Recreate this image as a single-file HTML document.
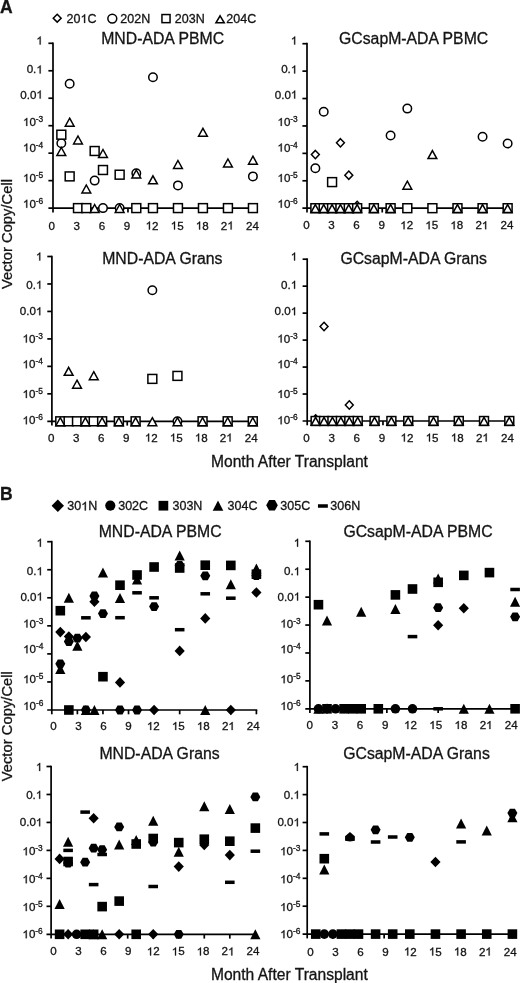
<!DOCTYPE html>
<html><head><meta charset="utf-8"><title>Vector copy figure</title>
<style>html,body{margin:0;padding:0;background:#fff;}body{width:520px;height:983px;overflow:hidden;}svg{display:block;will-change:transform;}text{font-family:"Liberation Sans", sans-serif;fill:#141414;stroke:#141414;stroke-width:0.3px;}.g1{fill:#141414;stroke:#141414;stroke-width:0.3px;}</style>
</head><body>
<svg width="520" height="983" viewBox="0 0 520 983">
<rect width="520" height="983" fill="#fff"/>
<text x="0" y="12.5" font-size="17.5" text-anchor="start" font-weight="bold">A</text>
<text x="0" y="499.6" font-size="17.5" text-anchor="start" font-weight="bold">B</text>
<g fill="#fff" stroke="#000" stroke-width="1.5">
<path d="M57.2 14.25L61.15 18.2L57.2 22.15L53.25 18.2Z" fill="#fff" stroke="#000" stroke-width="1.5" stroke-linejoin="miter"/>
<circle cx="112.3" cy="18.6" r="4.45" fill="#fff" stroke="#000" stroke-width="1.5"/>
<rect x="161.95" y="14.55" width="8.1" height="8.1" fill="#fff" stroke="#000" stroke-width="1.5"/>
<path d="M220.1 15.8L224.25 22.75L215.95 22.75Z" fill="#fff" stroke="#000" stroke-width="1.5" stroke-linejoin="miter"/>
</g>
<text x="66.6" y="22.9" font-size="12.5">20</text><path class="g1" d="M85.16 22.9L84.06 22.9L84.06 16.17Q83.67 16.54 83.02 16.9Q82.37 17.26 81.86 17.44L81.86 16.45Q82.77 16.04 83.46 15.45Q84.14 14.86 84.43 14.3L85.16 14.3Z"/><text x="87.46" y="22.9" font-size="12.5">C</text>
<text x="120.3" y="22.9" font-size="12.5">202N</text>
<text x="174.8" y="22.9" font-size="12.5">203N</text>
<text x="226.3" y="22.9" font-size="12.5">204C</text>
<g fill="#000">
<path d="M57.8 499.6L64 505.8L57.8 512L51.6 505.8Z"/>
<circle cx="110.3" cy="505.6" r="5.1"/>
<rect x="158.55" y="500.85" width="9.7" height="9.7"/>
<path d="M218 500.4L223.3 510.8L212.7 510.8Z"/>
<path d="M266.2 505.3L269.1 500L274.9 500L277.8 505.3L274.9 510.6L269.1 510.6Z"/>
<rect x="317.95" y="504.25" width="9.9" height="3.5"/>
</g>
<text x="67.3" y="510.4" font-size="12.5">30</text><path class="g1" d="M85.86 510.4L84.76 510.4L84.76 503.67Q84.37 504.04 83.72 504.4Q83.07 504.76 82.56 504.94L82.56 503.95Q83.47 503.54 84.16 502.95Q84.84 502.36 85.13 501.8L85.86 501.8Z"/><text x="88.16" y="510.4" font-size="12.5">N</text>
<text x="118.2" y="510.4" font-size="12.5">302C</text>
<text x="172.5" y="510.4" font-size="12.5">303N</text>
<text x="227.6" y="510.4" font-size="12.5">304C</text>
<text x="280.3" y="510.4" font-size="12.5">305C</text>
<text x="330.3" y="510.4" font-size="12.5">306N</text>
<g stroke="#000" stroke-width="1.7" fill="none" stroke-linecap="butt">
<path d="M53 42.45V212.4"/>
<path d="M48.4 208.1H253.77"/>
<path d="M48.4 43.3H53"/>
<path d="M48.4 70.77H53"/>
<path d="M48.4 98.23H53"/>
<path d="M48.4 125.7H53"/>
<path d="M48.4 153.17H53"/>
<path d="M48.4 180.63H53"/>
<path d="M77.99 208.1V212.4"/>
<path d="M102.98 208.1V212.4"/>
<path d="M127.97 208.1V212.4"/>
<path d="M152.96 208.1V212.4"/>
<path d="M177.95 208.1V212.4"/>
<path d="M202.94 208.1V212.4"/>
<path d="M227.93 208.1V212.4"/>
<path d="M252.92 208.1V212.4"/>
</g>
<path class="g1" d="M40.67 44.5L39.65 44.5L39.65 38.26Q39.28 38.59 38.68 38.93Q38.08 39.27 37.61 39.44L37.61 38.51Q38.46 38.13 39.09 37.59Q39.72 37.04 39.99 36.52L40.67 36.52Z"/>
<text x="26.67" y="73.4" font-size="11.6">0.</text><path class="g1" d="M40.67 73.4L39.65 73.4L39.65 67.16Q39.28 67.49 38.68 67.83Q38.08 68.17 37.61 68.34L37.61 67.41Q38.46 67.03 39.09 66.49Q39.72 65.94 39.99 65.42L40.67 65.42Z"/>
<text x="20.22" y="98.6" font-size="11.6">0.0</text><path class="g1" d="M40.67 98.6L39.65 98.6L39.65 92.36Q39.28 92.69 38.68 93.03Q38.08 93.37 37.61 93.54L37.61 92.61Q38.46 92.23 39.09 91.69Q39.72 91.14 39.99 90.62L40.67 90.62Z"/>
<path class="g1" d="M27.25 125.9L26.23 125.9L26.23 119.66Q25.86 119.99 25.26 120.33Q24.66 120.67 24.19 120.84L24.19 119.91Q25.04 119.53 25.67 118.99Q26.3 118.44 26.57 117.92L27.25 117.92Z"/><text x="29.38" y="125.9" font-size="11.6">0</text><text x="35.83" y="121.9" font-size="8.4">-3</text>
<path class="g1" d="M27.25 151.5L26.23 151.5L26.23 145.26Q25.86 145.59 25.26 145.93Q24.66 146.27 24.19 146.44L24.19 145.51Q25.04 145.13 25.67 144.59Q26.3 144.04 26.57 143.52L27.25 143.52Z"/><text x="29.38" y="151.5" font-size="11.6">0</text><text x="35.83" y="147.5" font-size="8.4">-4</text>
<path class="g1" d="M27.25 181.9L26.23 181.9L26.23 175.66Q25.86 175.99 25.26 176.33Q24.66 176.67 24.19 176.84L24.19 175.91Q25.04 175.53 25.67 174.99Q26.3 174.44 26.57 173.92L27.25 173.92Z"/><text x="29.38" y="181.9" font-size="11.6">0</text><text x="35.83" y="177.9" font-size="8.4">-5</text>
<path class="g1" d="M27.25 207.7L26.23 207.7L26.23 201.46Q25.86 201.79 25.26 202.13Q24.66 202.47 24.19 202.64L24.19 201.71Q25.04 201.33 25.67 200.79Q26.3 200.24 26.57 199.72L27.25 199.72Z"/><text x="29.38" y="207.7" font-size="11.6">0</text><text x="35.83" y="203.7" font-size="8.4">-6</text>
<text x="48.52" y="229.5" font-size="11.6">0</text>
<text x="73.6" y="229.5" font-size="11.6">3</text>
<text x="98.68" y="229.5" font-size="11.6">6</text>
<text x="123.76" y="229.5" font-size="11.6">9</text>
<path class="g1" d="M149.94 229.5L148.92 229.5L148.92 223.26Q148.55 223.59 147.95 223.93Q147.35 224.27 146.88 224.44L146.88 223.51Q147.73 223.13 148.36 222.59Q148.99 222.04 149.26 221.52L149.94 221.52Z"/><text x="152.07" y="229.5" font-size="11.6">2</text>
<path class="g1" d="M175.02 229.5L174 229.5L174 223.26Q173.63 223.59 173.03 223.93Q172.43 224.27 171.96 224.44L171.96 223.51Q172.81 223.13 173.44 222.59Q174.07 222.04 174.34 221.52L175.02 221.52Z"/><text x="177.15" y="229.5" font-size="11.6">5</text>
<path class="g1" d="M200.1 229.5L199.08 229.5L199.08 223.26Q198.71 223.59 198.11 223.93Q197.51 224.27 197.04 224.44L197.04 223.51Q197.89 223.13 198.52 222.59Q199.15 222.04 199.42 221.52L200.1 221.52Z"/><text x="202.23" y="229.5" font-size="11.6">8</text>
<text x="220.86" y="229.5" font-size="11.6">2</text><path class="g1" d="M231.63 229.5L230.61 229.5L230.61 223.26Q230.24 223.59 229.64 223.93Q229.04 224.27 228.57 224.44L228.57 223.51Q229.42 223.13 230.05 222.59Q230.69 222.04 230.95 221.52L231.63 221.52Z"/>
<text x="245.94" y="229.5" font-size="11.6">24</text>
<text x="101.2" y="43.6" font-size="15.8" text-anchor="start" font-weight="normal">MND-ADA PBMC</text>
<g fill="#000"><circle cx="69.66" cy="83.7" r="4.25" fill="#fff" stroke="#000" stroke-width="1.5"/><circle cx="152.96" cy="77.3" r="4.25" fill="#fff" stroke="#000" stroke-width="1.5"/><circle cx="61.33" cy="143.3" r="4.25" fill="#fff" stroke="#000" stroke-width="1.5"/><circle cx="94.65" cy="180.6" r="4.25" fill="#fff" stroke="#000" stroke-width="1.5"/><circle cx="136.3" cy="173.2" r="4.25" fill="#fff" stroke="#000" stroke-width="1.5"/><circle cx="177.95" cy="185.4" r="4.25" fill="#fff" stroke="#000" stroke-width="1.5"/><circle cx="252.92" cy="176.4" r="4.25" fill="#fff" stroke="#000" stroke-width="1.5"/><circle cx="102.98" cy="208.1" r="4.25" fill="#fff" stroke="#000" stroke-width="1.5"/><circle cx="119.64" cy="208.1" r="4.25" fill="#fff" stroke="#000" stroke-width="1.5"/><rect x="56.88" y="130.25" width="8.9" height="8.9" fill="#fff" stroke="#000" stroke-width="1.5"/><rect x="90.2" y="146.55" width="8.9" height="8.9" fill="#fff" stroke="#000" stroke-width="1.5"/><rect x="65.21" y="171.95" width="8.9" height="8.9" fill="#fff" stroke="#000" stroke-width="1.5"/><rect x="98.53" y="165.55" width="8.9" height="8.9" fill="#fff" stroke="#000" stroke-width="1.5"/><rect x="115.19" y="170.25" width="8.9" height="8.9" fill="#fff" stroke="#000" stroke-width="1.5"/><rect x="73.54" y="203.65" width="8.9" height="8.9" fill="#fff" stroke="#000" stroke-width="1.5"/><rect x="81.87" y="203.65" width="8.9" height="8.9" fill="#fff" stroke="#000" stroke-width="1.5"/><rect x="131.85" y="203.65" width="8.9" height="8.9" fill="#fff" stroke="#000" stroke-width="1.5"/><rect x="148.51" y="203.65" width="8.9" height="8.9" fill="#fff" stroke="#000" stroke-width="1.5"/><rect x="173.5" y="203.65" width="8.9" height="8.9" fill="#fff" stroke="#000" stroke-width="1.5"/><rect x="198.49" y="203.65" width="8.9" height="8.9" fill="#fff" stroke="#000" stroke-width="1.5"/><rect x="223.48" y="203.65" width="8.9" height="8.9" fill="#fff" stroke="#000" stroke-width="1.5"/><rect x="248.47" y="203.65" width="8.9" height="8.9" fill="#fff" stroke="#000" stroke-width="1.5"/><path d="M69.66 118.2L74.06 126.15L65.26 126.15Z" fill="#fff" stroke="#000" stroke-width="1.5" stroke-linejoin="miter"/><path d="M61.33 147.5L65.73 155.45L56.93 155.45Z" fill="#fff" stroke="#000" stroke-width="1.5" stroke-linejoin="miter"/><path d="M77.99 136L82.39 143.95L73.59 143.95Z" fill="#fff" stroke="#000" stroke-width="1.5" stroke-linejoin="miter"/><path d="M102.98 149.5L107.38 157.45L98.58 157.45Z" fill="#fff" stroke="#000" stroke-width="1.5" stroke-linejoin="miter"/><path d="M136.3 170L140.7 177.95L131.9 177.95Z" fill="#fff" stroke="#000" stroke-width="1.5" stroke-linejoin="miter"/><path d="M152.96 175.9L157.36 183.85L148.56 183.85Z" fill="#fff" stroke="#000" stroke-width="1.5" stroke-linejoin="miter"/><path d="M86.32 185L90.72 192.95L81.92 192.95Z" fill="#fff" stroke="#000" stroke-width="1.5" stroke-linejoin="miter"/><path d="M202.94 128.3L207.34 136.25L198.54 136.25Z" fill="#fff" stroke="#000" stroke-width="1.5" stroke-linejoin="miter"/><path d="M177.95 160.5L182.35 168.45L173.55 168.45Z" fill="#fff" stroke="#000" stroke-width="1.5" stroke-linejoin="miter"/><path d="M227.93 159L232.33 166.95L223.53 166.95Z" fill="#fff" stroke="#000" stroke-width="1.5" stroke-linejoin="miter"/><path d="M252.92 156.2L257.32 164.15L248.52 164.15Z" fill="#fff" stroke="#000" stroke-width="1.5" stroke-linejoin="miter"/><path d="M94.65 204.5L99.05 212.45L90.25 212.45Z" fill="#fff" stroke="#000" stroke-width="1.5" stroke-linejoin="miter"/><path d="M119.64 204.5L124.04 212.45L115.24 212.45Z" fill="#fff" stroke="#000" stroke-width="1.5" stroke-linejoin="miter"/></g>
<g stroke="#000" stroke-width="1.7" fill="none" stroke-linecap="butt">
<path d="M307 42.85V212.5"/>
<path d="M302.4 208.2H508.49"/>
<path d="M302.4 43.7H307"/>
<path d="M302.4 71.12H307"/>
<path d="M302.4 98.53H307"/>
<path d="M302.4 125.95H307"/>
<path d="M302.4 153.37H307"/>
<path d="M302.4 180.78H307"/>
<path d="M332.08 208.2V212.5"/>
<path d="M357.16 208.2V212.5"/>
<path d="M382.24 208.2V212.5"/>
<path d="M407.32 208.2V212.5"/>
<path d="M432.4 208.2V212.5"/>
<path d="M457.48 208.2V212.5"/>
<path d="M482.56 208.2V212.5"/>
<path d="M507.64 208.2V212.5"/>
</g>
<path class="g1" d="M295.17 44.5L294.15 44.5L294.15 38.26Q293.78 38.59 293.18 38.93Q292.58 39.27 292.11 39.44L292.11 38.51Q292.96 38.13 293.59 37.59Q294.22 37.04 294.49 36.52L295.17 36.52Z"/>
<text x="281.17" y="73.4" font-size="11.6">0.</text><path class="g1" d="M295.17 73.4L294.15 73.4L294.15 67.16Q293.78 67.49 293.18 67.83Q292.58 68.17 292.11 68.34L292.11 67.41Q292.96 67.03 293.59 66.49Q294.22 65.94 294.49 65.42L295.17 65.42Z"/>
<text x="274.72" y="98.6" font-size="11.6">0.0</text><path class="g1" d="M295.17 98.6L294.15 98.6L294.15 92.36Q293.78 92.69 293.18 93.03Q292.58 93.37 292.11 93.54L292.11 92.61Q292.96 92.23 293.59 91.69Q294.22 91.14 294.49 90.62L295.17 90.62Z"/>
<path class="g1" d="M281.75 125.9L280.73 125.9L280.73 119.66Q280.36 119.99 279.76 120.33Q279.16 120.67 278.69 120.84L278.69 119.91Q279.54 119.53 280.17 118.99Q280.8 118.44 281.07 117.92L281.75 117.92Z"/><text x="283.88" y="125.9" font-size="11.6">0</text><text x="290.33" y="121.9" font-size="8.4">-3</text>
<path class="g1" d="M281.75 151.5L280.73 151.5L280.73 145.26Q280.36 145.59 279.76 145.93Q279.16 146.27 278.69 146.44L278.69 145.51Q279.54 145.13 280.17 144.59Q280.8 144.04 281.07 143.52L281.75 143.52Z"/><text x="283.88" y="151.5" font-size="11.6">0</text><text x="290.33" y="147.5" font-size="8.4">-4</text>
<path class="g1" d="M281.75 181.9L280.73 181.9L280.73 175.66Q280.36 175.99 279.76 176.33Q279.16 176.67 278.69 176.84L278.69 175.91Q279.54 175.53 280.17 174.99Q280.8 174.44 281.07 173.92L281.75 173.92Z"/><text x="283.88" y="181.9" font-size="11.6">0</text><text x="290.33" y="177.9" font-size="8.4">-5</text>
<path class="g1" d="M281.75 207.7L280.73 207.7L280.73 201.46Q280.36 201.79 279.76 202.13Q279.16 202.47 278.69 202.64L278.69 201.71Q279.54 201.33 280.17 200.79Q280.8 200.24 281.07 199.72L281.75 199.72Z"/><text x="283.88" y="207.7" font-size="11.6">0</text><text x="290.33" y="203.7" font-size="8.4">-6</text>
<text x="303.27" y="229.2" font-size="11.6">0</text>
<text x="328.32" y="229.2" font-size="11.6">3</text>
<text x="353.37" y="229.2" font-size="11.6">6</text>
<text x="378.42" y="229.2" font-size="11.6">9</text>
<path class="g1" d="M404.57 229.2L403.55 229.2L403.55 222.96Q403.18 223.29 402.58 223.63Q401.98 223.97 401.51 224.14L401.51 223.21Q402.36 222.83 402.99 222.29Q403.62 221.74 403.89 221.22L404.57 221.22Z"/><text x="406.7" y="229.2" font-size="11.6">2</text>
<path class="g1" d="M429.62 229.2L428.6 229.2L428.6 222.96Q428.23 223.29 427.63 223.63Q427.03 223.97 426.56 224.14L426.56 223.21Q427.41 222.83 428.04 222.29Q428.67 221.74 428.94 221.22L429.62 221.22Z"/><text x="431.75" y="229.2" font-size="11.6">5</text>
<path class="g1" d="M454.67 229.2L453.65 229.2L453.65 222.96Q453.28 223.29 452.68 223.63Q452.08 223.97 451.61 224.14L451.61 223.21Q452.46 222.83 453.09 222.29Q453.72 221.74 453.99 221.22L454.67 221.22Z"/><text x="456.8" y="229.2" font-size="11.6">8</text>
<text x="475.4" y="229.2" font-size="11.6">2</text><path class="g1" d="M486.17 229.2L485.15 229.2L485.15 222.96Q484.78 223.29 484.18 223.63Q483.58 223.97 483.11 224.14L483.11 223.21Q483.96 222.83 484.59 222.29Q485.23 221.74 485.49 221.22L486.17 221.22Z"/>
<text x="500.45" y="229.2" font-size="11.6">24</text>
<text x="339" y="43.6" font-size="15.8" text-anchor="start" font-weight="normal">GCsapM-ADA PBMC</text>
<g fill="#000"><path d="M340.44 138.65L344.39 142.8L340.44 146.95L336.49 142.8Z" fill="#fff" stroke="#000" stroke-width="1.5" stroke-linejoin="miter"/><path d="M315.36 150.45L319.31 154.6L315.36 158.75L311.41 154.6Z" fill="#fff" stroke="#000" stroke-width="1.5" stroke-linejoin="miter"/><path d="M348.8 171.05L352.75 175.2L348.8 179.35L344.85 175.2Z" fill="#fff" stroke="#000" stroke-width="1.5" stroke-linejoin="miter"/><path d="M357.16 201.25L361.11 205.4L357.16 209.55L353.21 205.4Z" fill="#fff" stroke="#000" stroke-width="1.5" stroke-linejoin="miter"/><circle cx="323.72" cy="111.8" r="4.25" fill="#fff" stroke="#000" stroke-width="1.5"/><circle cx="407.32" cy="108.6" r="4.25" fill="#fff" stroke="#000" stroke-width="1.5"/><circle cx="390.6" cy="135.5" r="4.25" fill="#fff" stroke="#000" stroke-width="1.5"/><circle cx="315.36" cy="168.3" r="4.25" fill="#fff" stroke="#000" stroke-width="1.5"/><circle cx="482.56" cy="136.8" r="4.25" fill="#fff" stroke="#000" stroke-width="1.5"/><circle cx="507.64" cy="143.5" r="4.25" fill="#fff" stroke="#000" stroke-width="1.5"/><rect x="327.63" y="177.65" width="8.9" height="8.9" fill="#fff" stroke="#000" stroke-width="1.5"/><rect x="310.91" y="203.75" width="8.9" height="8.9" fill="#fff" stroke="#000" stroke-width="1.5"/><rect x="319.27" y="203.75" width="8.9" height="8.9" fill="#fff" stroke="#000" stroke-width="1.5"/><rect x="327.63" y="203.75" width="8.9" height="8.9" fill="#fff" stroke="#000" stroke-width="1.5"/><rect x="335.99" y="203.75" width="8.9" height="8.9" fill="#fff" stroke="#000" stroke-width="1.5"/><rect x="344.35" y="203.75" width="8.9" height="8.9" fill="#fff" stroke="#000" stroke-width="1.5"/><rect x="352.71" y="203.75" width="8.9" height="8.9" fill="#fff" stroke="#000" stroke-width="1.5"/><rect x="369.43" y="203.75" width="8.9" height="8.9" fill="#fff" stroke="#000" stroke-width="1.5"/><rect x="386.15" y="203.75" width="8.9" height="8.9" fill="#fff" stroke="#000" stroke-width="1.5"/><rect x="402.87" y="203.75" width="8.9" height="8.9" fill="#fff" stroke="#000" stroke-width="1.5"/><rect x="427.95" y="203.75" width="8.9" height="8.9" fill="#fff" stroke="#000" stroke-width="1.5"/><rect x="453.03" y="203.75" width="8.9" height="8.9" fill="#fff" stroke="#000" stroke-width="1.5"/><rect x="478.11" y="203.75" width="8.9" height="8.9" fill="#fff" stroke="#000" stroke-width="1.5"/><rect x="503.19" y="203.75" width="8.9" height="8.9" fill="#fff" stroke="#000" stroke-width="1.5"/><path d="M407.32 181.2L411.72 189.15L402.92 189.15Z" fill="#fff" stroke="#000" stroke-width="1.5" stroke-linejoin="miter"/><path d="M432.4 150.6L436.8 158.55L428 158.55Z" fill="#fff" stroke="#000" stroke-width="1.5" stroke-linejoin="miter"/><path d="M315.36 204.6L319.76 212.55L310.96 212.55Z" fill="#fff" stroke="#000" stroke-width="1.5" stroke-linejoin="miter"/><path d="M323.72 204.6L328.12 212.55L319.32 212.55Z" fill="#fff" stroke="#000" stroke-width="1.5" stroke-linejoin="miter"/><path d="M332.08 204.6L336.48 212.55L327.68 212.55Z" fill="#fff" stroke="#000" stroke-width="1.5" stroke-linejoin="miter"/><path d="M340.44 204.6L344.84 212.55L336.04 212.55Z" fill="#fff" stroke="#000" stroke-width="1.5" stroke-linejoin="miter"/><path d="M348.8 204.6L353.2 212.55L344.4 212.55Z" fill="#fff" stroke="#000" stroke-width="1.5" stroke-linejoin="miter"/><path d="M357.16 204.6L361.56 212.55L352.76 212.55Z" fill="#fff" stroke="#000" stroke-width="1.5" stroke-linejoin="miter"/><path d="M373.88 204.6L378.28 212.55L369.48 212.55Z" fill="#fff" stroke="#000" stroke-width="1.5" stroke-linejoin="miter"/><path d="M390.6 204.6L395 212.55L386.2 212.55Z" fill="#fff" stroke="#000" stroke-width="1.5" stroke-linejoin="miter"/><path d="M457.48 204.6L461.88 212.55L453.08 212.55Z" fill="#fff" stroke="#000" stroke-width="1.5" stroke-linejoin="miter"/><path d="M482.56 204.6L486.96 212.55L478.16 212.55Z" fill="#fff" stroke="#000" stroke-width="1.5" stroke-linejoin="miter"/><path d="M507.64 204.6L512.04 212.55L503.24 212.55Z" fill="#fff" stroke="#000" stroke-width="1.5" stroke-linejoin="miter"/></g>
<g stroke="#000" stroke-width="1.7" fill="none" stroke-linecap="butt">
<path d="M51.9 255.65V425.6"/>
<path d="M47.3 421.3H253.63"/>
<path d="M47.3 256.5H51.9"/>
<path d="M47.3 283.97H51.9"/>
<path d="M47.3 311.43H51.9"/>
<path d="M47.3 338.9H51.9"/>
<path d="M47.3 366.37H51.9"/>
<path d="M47.3 393.83H51.9"/>
<path d="M77.01 421.3V425.6"/>
<path d="M102.12 421.3V425.6"/>
<path d="M127.23 421.3V425.6"/>
<path d="M152.34 421.3V425.6"/>
<path d="M177.45 421.3V425.6"/>
<path d="M202.56 421.3V425.6"/>
<path d="M227.67 421.3V425.6"/>
<path d="M252.78 421.3V425.6"/>
</g>
<path class="g1" d="M40.27 260.5L39.25 260.5L39.25 254.26Q38.88 254.59 38.28 254.93Q37.68 255.27 37.21 255.44L37.21 254.51Q38.06 254.13 38.69 253.59Q39.32 253.04 39.59 252.52L40.27 252.52Z"/>
<text x="26.27" y="288.8" font-size="11.6">0.</text><path class="g1" d="M40.27 288.8L39.25 288.8L39.25 282.56Q38.88 282.89 38.28 283.23Q37.68 283.57 37.21 283.74L37.21 282.81Q38.06 282.43 38.69 281.89Q39.32 281.34 39.59 280.82L40.27 280.82Z"/>
<text x="19.82" y="315.2" font-size="11.6">0.0</text><path class="g1" d="M40.27 315.2L39.25 315.2L39.25 308.96Q38.88 309.29 38.28 309.63Q37.68 309.97 37.21 310.14L37.21 309.21Q38.06 308.83 38.69 308.29Q39.32 307.74 39.59 307.22L40.27 307.22Z"/>
<path class="g1" d="M26.85 342.6L25.83 342.6L25.83 336.36Q25.46 336.69 24.86 337.03Q24.26 337.37 23.79 337.54L23.79 336.61Q24.64 336.23 25.27 335.69Q25.9 335.14 26.17 334.62L26.85 334.62Z"/><text x="28.98" y="342.6" font-size="11.6">0</text><text x="35.43" y="338.6" font-size="8.4">-3</text>
<path class="g1" d="M26.85 368.3L25.83 368.3L25.83 362.06Q25.46 362.39 24.86 362.73Q24.26 363.07 23.79 363.24L23.79 362.31Q24.64 361.93 25.27 361.39Q25.9 360.84 26.17 360.32L26.85 360.32Z"/><text x="28.98" y="368.3" font-size="11.6">0</text><text x="35.43" y="364.3" font-size="8.4">-4</text>
<path class="g1" d="M26.85 398L25.83 398L25.83 391.76Q25.46 392.09 24.86 392.43Q24.26 392.77 23.79 392.94L23.79 392.01Q24.64 391.63 25.27 391.09Q25.9 390.54 26.17 390.02L26.85 390.02Z"/><text x="28.98" y="398" font-size="11.6">0</text><text x="35.43" y="394" font-size="8.4">-5</text>
<path class="g1" d="M26.85 424.3L25.83 424.3L25.83 418.06Q25.46 418.39 24.86 418.73Q24.26 419.07 23.79 419.24L23.79 418.31Q24.64 417.93 25.27 417.39Q25.9 416.84 26.17 416.32L26.85 416.32Z"/><text x="28.98" y="424.3" font-size="11.6">0</text><text x="35.43" y="420.3" font-size="8.4">-6</text>
<text x="48.07" y="441.6" font-size="11.6">0</text>
<text x="73.06" y="441.6" font-size="11.6">3</text>
<text x="98.05" y="441.6" font-size="11.6">6</text>
<text x="123.04" y="441.6" font-size="11.6">9</text>
<path class="g1" d="M149.13 441.6L148.11 441.6L148.11 435.36Q147.74 435.69 147.14 436.03Q146.54 436.37 146.07 436.54L146.07 435.61Q146.92 435.23 147.55 434.69Q148.18 434.14 148.45 433.62L149.13 433.62Z"/><text x="151.26" y="441.6" font-size="11.6">2</text>
<path class="g1" d="M174.12 441.6L173.1 441.6L173.1 435.36Q172.73 435.69 172.13 436.03Q171.53 436.37 171.06 436.54L171.06 435.61Q171.91 435.23 172.54 434.69Q173.17 434.14 173.44 433.62L174.12 433.62Z"/><text x="176.25" y="441.6" font-size="11.6">5</text>
<path class="g1" d="M199.11 441.6L198.09 441.6L198.09 435.36Q197.72 435.69 197.12 436.03Q196.52 436.37 196.05 436.54L196.05 435.61Q196.9 435.23 197.53 434.69Q198.16 434.14 198.43 433.62L199.11 433.62Z"/><text x="201.24" y="441.6" font-size="11.6">8</text>
<text x="219.78" y="441.6" font-size="11.6">2</text><path class="g1" d="M230.55 441.6L229.53 441.6L229.53 435.36Q229.16 435.69 228.56 436.03Q227.96 436.37 227.49 436.54L227.49 435.61Q228.34 435.23 228.97 434.69Q229.61 434.14 229.87 433.62L230.55 433.62Z"/>
<text x="244.77" y="441.6" font-size="11.6">24</text>
<text x="102.2" y="263.8" font-size="15.8" text-anchor="start" font-weight="normal">MND-ADA Grans</text>
<g fill="#000"><circle cx="152.34" cy="290.3" r="4.25" fill="#fff" stroke="#000" stroke-width="1.5"/><circle cx="177.45" cy="421.3" r="4.25" fill="#fff" stroke="#000" stroke-width="1.5"/><rect x="147.89" y="374.45" width="8.9" height="8.9" fill="#fff" stroke="#000" stroke-width="1.5"/><rect x="173" y="371.45" width="8.9" height="8.9" fill="#fff" stroke="#000" stroke-width="1.5"/><rect x="55.82" y="416.85" width="8.9" height="8.9" fill="#fff" stroke="#000" stroke-width="1.5"/><rect x="64.19" y="416.85" width="8.9" height="8.9" fill="#fff" stroke="#000" stroke-width="1.5"/><rect x="72.56" y="416.85" width="8.9" height="8.9" fill="#fff" stroke="#000" stroke-width="1.5"/><rect x="80.93" y="416.85" width="8.9" height="8.9" fill="#fff" stroke="#000" stroke-width="1.5"/><rect x="89.3" y="416.85" width="8.9" height="8.9" fill="#fff" stroke="#000" stroke-width="1.5"/><rect x="97.67" y="416.85" width="8.9" height="8.9" fill="#fff" stroke="#000" stroke-width="1.5"/><rect x="114.41" y="416.85" width="8.9" height="8.9" fill="#fff" stroke="#000" stroke-width="1.5"/><rect x="131.15" y="416.85" width="8.9" height="8.9" fill="#fff" stroke="#000" stroke-width="1.5"/><rect x="198.11" y="416.85" width="8.9" height="8.9" fill="#fff" stroke="#000" stroke-width="1.5"/><rect x="223.22" y="416.85" width="8.9" height="8.9" fill="#fff" stroke="#000" stroke-width="1.5"/><rect x="248.33" y="416.85" width="8.9" height="8.9" fill="#fff" stroke="#000" stroke-width="1.5"/><path d="M68.64 367.4L73.04 375.35L64.24 375.35Z" fill="#fff" stroke="#000" stroke-width="1.5" stroke-linejoin="miter"/><path d="M77.01 380.2L81.41 388.15L72.61 388.15Z" fill="#fff" stroke="#000" stroke-width="1.5" stroke-linejoin="miter"/><path d="M93.75 371.7L98.15 379.65L89.35 379.65Z" fill="#fff" stroke="#000" stroke-width="1.5" stroke-linejoin="miter"/><path d="M60.27 417.7L64.67 425.65L55.87 425.65Z" fill="#fff" stroke="#000" stroke-width="1.5" stroke-linejoin="miter"/><path d="M85.38 417.7L89.78 425.65L80.98 425.65Z" fill="#fff" stroke="#000" stroke-width="1.5" stroke-linejoin="miter"/><path d="M102.12 417.7L106.52 425.65L97.72 425.65Z" fill="#fff" stroke="#000" stroke-width="1.5" stroke-linejoin="miter"/><path d="M118.86 417.7L123.26 425.65L114.46 425.65Z" fill="#fff" stroke="#000" stroke-width="1.5" stroke-linejoin="miter"/><path d="M135.6 417.7L140 425.65L131.2 425.65Z" fill="#fff" stroke="#000" stroke-width="1.5" stroke-linejoin="miter"/><path d="M152.34 417.7L156.74 425.65L147.94 425.65Z" fill="#fff" stroke="#000" stroke-width="1.5" stroke-linejoin="miter"/><path d="M177.45 417.7L181.85 425.65L173.05 425.65Z" fill="#fff" stroke="#000" stroke-width="1.5" stroke-linejoin="miter"/><path d="M202.56 417.7L206.96 425.65L198.16 425.65Z" fill="#fff" stroke="#000" stroke-width="1.5" stroke-linejoin="miter"/><path d="M227.67 417.7L232.07 425.65L223.27 425.65Z" fill="#fff" stroke="#000" stroke-width="1.5" stroke-linejoin="miter"/><path d="M252.78 417.7L257.18 425.65L248.38 425.65Z" fill="#fff" stroke="#000" stroke-width="1.5" stroke-linejoin="miter"/></g>
<g stroke="#000" stroke-width="1.7" fill="none" stroke-linecap="butt">
<path d="M307.2 258.35V425.3"/>
<path d="M302.6 421H510.13"/>
<path d="M302.6 259.2H307.2"/>
<path d="M302.6 286.17H307.2"/>
<path d="M302.6 313.13H307.2"/>
<path d="M302.6 340.1H307.2"/>
<path d="M302.6 367.07H307.2"/>
<path d="M302.6 394.03H307.2"/>
<path d="M332.46 421V425.3"/>
<path d="M357.72 421V425.3"/>
<path d="M382.98 421V425.3"/>
<path d="M408.24 421V425.3"/>
<path d="M433.5 421V425.3"/>
<path d="M458.76 421V425.3"/>
<path d="M484.02 421V425.3"/>
<path d="M509.28 421V425.3"/>
</g>
<path class="g1" d="M295.07 260.5L294.05 260.5L294.05 254.26Q293.68 254.59 293.08 254.93Q292.48 255.27 292.01 255.44L292.01 254.51Q292.86 254.13 293.49 253.59Q294.12 253.04 294.39 252.52L295.07 252.52Z"/>
<text x="281.07" y="288.8" font-size="11.6">0.</text><path class="g1" d="M295.07 288.8L294.05 288.8L294.05 282.56Q293.68 282.89 293.08 283.23Q292.48 283.57 292.01 283.74L292.01 282.81Q292.86 282.43 293.49 281.89Q294.12 281.34 294.39 280.82L295.07 280.82Z"/>
<text x="274.62" y="315.2" font-size="11.6">0.0</text><path class="g1" d="M295.07 315.2L294.05 315.2L294.05 308.96Q293.68 309.29 293.08 309.63Q292.48 309.97 292.01 310.14L292.01 309.21Q292.86 308.83 293.49 308.29Q294.12 307.74 294.39 307.22L295.07 307.22Z"/>
<path class="g1" d="M281.65 342.6L280.63 342.6L280.63 336.36Q280.26 336.69 279.66 337.03Q279.06 337.37 278.59 337.54L278.59 336.61Q279.44 336.23 280.07 335.69Q280.7 335.14 280.97 334.62L281.65 334.62Z"/><text x="283.78" y="342.6" font-size="11.6">0</text><text x="290.23" y="338.6" font-size="8.4">-3</text>
<path class="g1" d="M281.65 368.3L280.63 368.3L280.63 362.06Q280.26 362.39 279.66 362.73Q279.06 363.07 278.59 363.24L278.59 362.31Q279.44 361.93 280.07 361.39Q280.7 360.84 280.97 360.32L281.65 360.32Z"/><text x="283.78" y="368.3" font-size="11.6">0</text><text x="290.23" y="364.3" font-size="8.4">-4</text>
<path class="g1" d="M281.65 398L280.63 398L280.63 391.76Q280.26 392.09 279.66 392.43Q279.06 392.77 278.59 392.94L278.59 392.01Q279.44 391.63 280.07 391.09Q280.7 390.54 280.97 390.02L281.65 390.02Z"/><text x="283.78" y="398" font-size="11.6">0</text><text x="290.23" y="394" font-size="8.4">-5</text>
<path class="g1" d="M281.65 424.3L280.63 424.3L280.63 418.06Q280.26 418.39 279.66 418.73Q279.06 419.07 278.59 419.24L278.59 418.31Q279.44 417.93 280.07 417.39Q280.7 416.84 280.97 416.32L281.65 416.32Z"/><text x="283.78" y="424.3" font-size="11.6">0</text><text x="290.23" y="420.3" font-size="8.4">-6</text>
<text x="303.27" y="441.5" font-size="11.6">0</text>
<text x="328.4" y="441.5" font-size="11.6">3</text>
<text x="353.52" y="441.5" font-size="11.6">6</text>
<text x="378.65" y="441.5" font-size="11.6">9</text>
<path class="g1" d="M404.87 441.5L403.85 441.5L403.85 435.26Q403.48 435.59 402.88 435.93Q402.28 436.27 401.81 436.44L401.81 435.51Q402.66 435.13 403.29 434.59Q403.92 434.04 404.19 433.52L404.87 433.52Z"/><text x="407" y="441.5" font-size="11.6">2</text>
<path class="g1" d="M430 441.5L428.98 441.5L428.98 435.26Q428.61 435.59 428.01 435.93Q427.41 436.27 426.94 436.44L426.94 435.51Q427.78 435.13 428.42 434.59Q429.05 434.04 429.32 433.52L430 433.52Z"/><text x="432.12" y="441.5" font-size="11.6">5</text>
<path class="g1" d="M455.12 441.5L454.1 441.5L454.1 435.26Q453.73 435.59 453.13 435.93Q452.53 436.27 452.06 436.44L452.06 435.51Q452.91 435.13 453.54 434.59Q454.17 434.04 454.44 433.52L455.12 433.52Z"/><text x="457.25" y="441.5" font-size="11.6">8</text>
<text x="475.92" y="441.5" font-size="11.6">2</text><path class="g1" d="M486.7 441.5L485.68 441.5L485.68 435.26Q485.31 435.59 484.71 435.93Q484.11 436.27 483.64 436.44L483.64 435.51Q484.48 435.13 485.12 434.59Q485.75 434.04 486.02 433.52L486.7 433.52Z"/>
<text x="501.05" y="441.5" font-size="11.6">24</text>
<text x="340.4" y="263.8" font-size="15.8" text-anchor="start" font-weight="normal">GCsapM-ADA Grans</text>
<g fill="#000"><path d="M324.04 322.35L327.99 326.5L324.04 330.65L320.09 326.5Z" fill="#fff" stroke="#000" stroke-width="1.5" stroke-linejoin="miter"/><path d="M349.3 400.85L353.25 405L349.3 409.15L345.35 405Z" fill="#fff" stroke="#000" stroke-width="1.5" stroke-linejoin="miter"/><path d="M315.62 414.85L319.57 419L315.62 423.15L311.67 419Z" fill="#fff" stroke="#000" stroke-width="1.5" stroke-linejoin="miter"/><rect x="311.17" y="416.55" width="8.9" height="8.9" fill="#fff" stroke="#000" stroke-width="1.5"/><rect x="319.59" y="416.55" width="8.9" height="8.9" fill="#fff" stroke="#000" stroke-width="1.5"/><rect x="328.01" y="416.55" width="8.9" height="8.9" fill="#fff" stroke="#000" stroke-width="1.5"/><rect x="336.43" y="416.55" width="8.9" height="8.9" fill="#fff" stroke="#000" stroke-width="1.5"/><rect x="344.85" y="416.55" width="8.9" height="8.9" fill="#fff" stroke="#000" stroke-width="1.5"/><rect x="353.27" y="416.55" width="8.9" height="8.9" fill="#fff" stroke="#000" stroke-width="1.5"/><rect x="370.11" y="416.55" width="8.9" height="8.9" fill="#fff" stroke="#000" stroke-width="1.5"/><rect x="386.95" y="416.55" width="8.9" height="8.9" fill="#fff" stroke="#000" stroke-width="1.5"/><rect x="403.79" y="416.55" width="8.9" height="8.9" fill="#fff" stroke="#000" stroke-width="1.5"/><rect x="429.05" y="416.55" width="8.9" height="8.9" fill="#fff" stroke="#000" stroke-width="1.5"/><rect x="454.31" y="416.55" width="8.9" height="8.9" fill="#fff" stroke="#000" stroke-width="1.5"/><rect x="479.57" y="416.55" width="8.9" height="8.9" fill="#fff" stroke="#000" stroke-width="1.5"/><rect x="504.83" y="416.55" width="8.9" height="8.9" fill="#fff" stroke="#000" stroke-width="1.5"/><path d="M315.62 417.4L320.02 425.35L311.22 425.35Z" fill="#fff" stroke="#000" stroke-width="1.5" stroke-linejoin="miter"/><path d="M324.04 417.4L328.44 425.35L319.64 425.35Z" fill="#fff" stroke="#000" stroke-width="1.5" stroke-linejoin="miter"/><path d="M332.46 417.4L336.86 425.35L328.06 425.35Z" fill="#fff" stroke="#000" stroke-width="1.5" stroke-linejoin="miter"/><path d="M340.88 417.4L345.28 425.35L336.48 425.35Z" fill="#fff" stroke="#000" stroke-width="1.5" stroke-linejoin="miter"/><path d="M349.3 417.4L353.7 425.35L344.9 425.35Z" fill="#fff" stroke="#000" stroke-width="1.5" stroke-linejoin="miter"/><path d="M357.72 417.4L362.12 425.35L353.32 425.35Z" fill="#fff" stroke="#000" stroke-width="1.5" stroke-linejoin="miter"/><path d="M374.56 417.4L378.96 425.35L370.16 425.35Z" fill="#fff" stroke="#000" stroke-width="1.5" stroke-linejoin="miter"/><path d="M391.4 417.4L395.8 425.35L387 425.35Z" fill="#fff" stroke="#000" stroke-width="1.5" stroke-linejoin="miter"/><path d="M408.24 417.4L412.64 425.35L403.84 425.35Z" fill="#fff" stroke="#000" stroke-width="1.5" stroke-linejoin="miter"/><path d="M433.5 417.4L437.9 425.35L429.1 425.35Z" fill="#fff" stroke="#000" stroke-width="1.5" stroke-linejoin="miter"/><path d="M458.76 417.4L463.16 425.35L454.36 425.35Z" fill="#fff" stroke="#000" stroke-width="1.5" stroke-linejoin="miter"/><path d="M484.02 417.4L488.42 425.35L479.62 425.35Z" fill="#fff" stroke="#000" stroke-width="1.5" stroke-linejoin="miter"/><path d="M509.28 417.4L513.68 425.35L504.88 425.35Z" fill="#fff" stroke="#000" stroke-width="1.5" stroke-linejoin="miter"/></g>
<g stroke="#000" stroke-width="1.7" fill="none" stroke-linecap="butt">
<path d="M51.8 540.85V714.3"/>
<path d="M47.2 710H257.25"/>
<path d="M47.2 541.7H51.8"/>
<path d="M47.2 569.75H51.8"/>
<path d="M47.2 597.8H51.8"/>
<path d="M47.2 625.85H51.8"/>
<path d="M47.2 653.9H51.8"/>
<path d="M47.2 681.95H51.8"/>
<path d="M77.38 710V714.3"/>
<path d="M102.95 710V714.3"/>
<path d="M128.53 710V714.3"/>
<path d="M154.1 710V714.3"/>
<path d="M179.68 710V714.3"/>
<path d="M205.25 710V714.3"/>
<path d="M230.82 710V714.3"/>
<path d="M256.4 710V714.3"/>
</g>
<path class="g1" d="M40.87 546.7L39.85 546.7L39.85 540.46Q39.48 540.79 38.88 541.13Q38.28 541.47 37.81 541.64L37.81 540.71Q38.66 540.33 39.29 539.79Q39.92 539.24 40.19 538.72L40.87 538.72Z"/>
<text x="26.87" y="575.2" font-size="11.6">0.</text><path class="g1" d="M40.87 575.2L39.85 575.2L39.85 568.96Q39.48 569.29 38.88 569.63Q38.28 569.97 37.81 570.14L37.81 569.21Q38.66 568.83 39.29 568.29Q39.92 567.74 40.19 567.22L40.87 567.22Z"/>
<text x="20.42" y="600.6" font-size="11.6">0.0</text><path class="g1" d="M40.87 600.6L39.85 600.6L39.85 594.36Q39.48 594.69 38.88 595.03Q38.28 595.37 37.81 595.54L37.81 594.61Q38.66 594.23 39.29 593.69Q39.92 593.14 40.19 592.62L40.87 592.62Z"/>
<path class="g1" d="M27.45 627.6L26.43 627.6L26.43 621.36Q26.06 621.69 25.46 622.03Q24.86 622.37 24.39 622.54L24.39 621.61Q25.24 621.23 25.87 620.69Q26.5 620.14 26.77 619.62L27.45 619.62Z"/><text x="29.58" y="627.6" font-size="11.6">0</text><text x="36.03" y="623.6" font-size="8.4">-3</text>
<path class="g1" d="M27.45 653.2L26.43 653.2L26.43 646.96Q26.06 647.29 25.46 647.63Q24.86 647.97 24.39 648.14L24.39 647.21Q25.24 646.83 25.87 646.29Q26.5 645.74 26.77 645.22L27.45 645.22Z"/><text x="29.58" y="653.2" font-size="11.6">0</text><text x="36.03" y="649.2" font-size="8.4">-4</text>
<path class="g1" d="M27.45 683.2L26.43 683.2L26.43 676.96Q26.06 677.29 25.46 677.63Q24.86 677.97 24.39 678.14L24.39 677.21Q25.24 676.83 25.87 676.29Q26.5 675.74 26.77 675.22L27.45 675.22Z"/><text x="29.58" y="683.2" font-size="11.6">0</text><text x="36.03" y="679.2" font-size="8.4">-5</text>
<path class="g1" d="M27.45 709.9L26.43 709.9L26.43 703.66Q26.06 703.99 25.46 704.33Q24.86 704.67 24.39 704.84L24.39 703.91Q25.24 703.53 25.87 702.99Q26.5 702.44 26.77 701.92L27.45 701.92Z"/><text x="29.58" y="709.9" font-size="11.6">0</text><text x="36.03" y="705.9" font-size="8.4">-6</text>
<text x="50.17" y="730" font-size="11.6">0</text>
<text x="75.16" y="730" font-size="11.6">3</text>
<text x="100.15" y="730" font-size="11.6">6</text>
<text x="125.14" y="730" font-size="11.6">9</text>
<path class="g1" d="M151.23 730L150.21 730L150.21 723.76Q149.84 724.09 149.24 724.43Q148.64 724.77 148.17 724.94L148.17 724.01Q149.02 723.63 149.65 723.09Q150.28 722.54 150.55 722.02L151.23 722.02Z"/><text x="153.36" y="730" font-size="11.6">2</text>
<path class="g1" d="M176.22 730L175.2 730L175.2 723.76Q174.83 724.09 174.23 724.43Q173.63 724.77 173.16 724.94L173.16 724.01Q174.01 723.63 174.64 723.09Q175.27 722.54 175.54 722.02L176.22 722.02Z"/><text x="178.35" y="730" font-size="11.6">5</text>
<path class="g1" d="M201.21 730L200.19 730L200.19 723.76Q199.82 724.09 199.22 724.43Q198.62 724.77 198.15 724.94L198.15 724.01Q199 723.63 199.63 723.09Q200.26 722.54 200.53 722.02L201.21 722.02Z"/><text x="203.34" y="730" font-size="11.6">8</text>
<text x="221.88" y="730" font-size="11.6">2</text><path class="g1" d="M232.65 730L231.63 730L231.63 723.76Q231.26 724.09 230.66 724.43Q230.06 724.77 229.59 724.94L229.59 724.01Q230.44 723.63 231.07 723.09Q231.71 722.54 231.97 722.02L232.65 722.02Z"/>
<text x="246.87" y="730" font-size="11.6">24</text>
<text x="98.7" y="537.2" font-size="15.8" text-anchor="start" font-weight="normal">MND-ADA PBMC</text>
<g fill="#000"><path d="M60.32 626.8L65.42 632.1L60.32 637.4L55.22 632.1Z"/><path d="M68.85 631.2L73.95 636.5L68.85 641.8L63.75 636.5Z"/><path d="M85.9 631.7L91 637L85.9 642.3L80.8 637Z"/><path d="M94.42 596.5L99.52 601.8L94.42 607.1L89.33 601.8Z"/><path d="M120 677.1L125.1 682.4L120 687.7L114.9 682.4Z"/><path d="M179.68 645.6L184.78 650.9L179.68 656.2L174.58 650.9Z"/><path d="M205.25 613.1L210.35 618.4L205.25 623.7L200.15 618.4Z"/><path d="M256.4 587.2L261.5 592.5L256.4 597.8L251.3 592.5Z"/><path d="M154.1 704.7L159.2 710L154.1 715.3L149 710Z"/><path d="M230.82 704.7L235.92 710L230.82 715.3L225.72 710Z"/><rect x="55.52" y="605.9" width="9.6" height="9.6"/><rect x="98.15" y="671.9" width="9.6" height="9.6"/><rect x="115.2" y="580.4" width="9.6" height="9.6"/><rect x="132.25" y="570.2" width="9.6" height="9.6"/><rect x="149.3" y="562.2" width="9.6" height="9.6"/><rect x="174.88" y="563.2" width="9.6" height="9.6"/><rect x="200.45" y="560.4" width="9.6" height="9.6"/><rect x="226.02" y="560.6" width="9.6" height="9.6"/><rect x="251.6" y="569.4" width="9.6" height="9.6"/><rect x="64.05" y="705.2" width="9.6" height="9.6"/><path d="M60.32 664L65.42 674L55.22 674Z"/><path d="M68.85 592.8L73.95 602.8L63.75 602.8Z"/><path d="M77.38 640.7L82.47 650.7L72.28 650.7Z"/><path d="M102.95 567.6L108.05 577.6L97.85 577.6Z"/><path d="M120 593L125.1 603L114.9 603Z"/><path d="M137.05 574.5L142.15 584.5L131.95 584.5Z"/><path d="M179.68 550.4L184.78 560.4L174.58 560.4Z"/><path d="M230.82 579.2L235.92 589.2L225.72 589.2Z"/><path d="M256.4 563.5L261.5 573.5L251.3 573.5Z"/><path d="M85.9 705L91 715L80.8 715Z"/><path d="M94.42 705L99.52 715L89.33 715Z"/><path d="M205.25 705L210.35 715L200.15 715Z"/><path d="M55.32 663.8L57.82 659.4L62.82 659.4L65.32 663.8L62.82 668.2L57.82 668.2Z"/><path d="M63.85 641.6L66.35 637.2L71.35 637.2L73.85 641.6L71.35 646L66.35 646Z"/><path d="M72.38 638.2L74.88 633.8L79.88 633.8L82.38 638.2L79.88 642.6L74.88 642.6Z"/><path d="M89.42 596L91.92 591.6L96.92 591.6L99.42 596L96.92 600.4L91.92 600.4Z"/><path d="M97.95 613.6L100.45 609.2L105.45 609.2L107.95 613.6L105.45 618L100.45 618Z"/><path d="M149.1 606.6L151.6 602.2L156.6 602.2L159.1 606.6L156.6 611L151.6 611Z"/><path d="M174.68 565.5L177.18 561.1L182.18 561.1L184.68 565.5L182.18 569.9L177.18 569.9Z"/><path d="M200.25 575.8L202.75 571.4L207.75 571.4L210.25 575.8L207.75 580.2L202.75 580.2Z"/><path d="M251.4 575.5L253.9 571.1L258.9 571.1L261.4 575.5L258.9 579.9L253.9 579.9Z"/><path d="M80.9 710L83.4 705.6L88.4 705.6L90.9 710L88.4 714.4L83.4 714.4Z"/><path d="M115 710L117.5 705.6L122.5 705.6L125 710L122.5 714.4L117.5 714.4Z"/><path d="M132.05 710L134.55 705.6L139.55 705.6L142.05 710L139.55 714.4L134.55 714.4Z"/><rect x="81.1" y="616.05" width="9.6" height="3.5"/><rect x="115.2" y="615.95" width="9.6" height="3.5"/><rect x="132.25" y="591.05" width="9.6" height="3.5"/><rect x="149.3" y="596.05" width="9.6" height="3.5"/><rect x="174.88" y="627.95" width="9.6" height="3.5"/><rect x="200.45" y="592.05" width="9.6" height="3.5"/><rect x="226.02" y="596.45" width="9.6" height="3.5"/></g>
<g stroke="#000" stroke-width="1.7" fill="none" stroke-linecap="butt">
<path d="M309.9 540.45V713.1"/>
<path d="M305.3 708.8H515.95"/>
<path d="M305.3 541.3H309.9"/>
<path d="M305.3 569.22H309.9"/>
<path d="M305.3 597.13H309.9"/>
<path d="M305.3 625.05H309.9"/>
<path d="M305.3 652.97H309.9"/>
<path d="M305.3 680.88H309.9"/>
<path d="M335.55 708.8V713.1"/>
<path d="M361.2 708.8V713.1"/>
<path d="M386.85 708.8V713.1"/>
<path d="M412.5 708.8V713.1"/>
<path d="M438.15 708.8V713.1"/>
<path d="M463.8 708.8V713.1"/>
<path d="M489.45 708.8V713.1"/>
<path d="M515.1 708.8V713.1"/>
</g>
<path class="g1" d="M298.07 546.7L297.05 546.7L297.05 540.46Q296.68 540.79 296.08 541.13Q295.48 541.47 295.01 541.64L295.01 540.71Q295.86 540.33 296.49 539.79Q297.12 539.24 297.39 538.72L298.07 538.72Z"/>
<text x="284.07" y="575.2" font-size="11.6">0.</text><path class="g1" d="M298.07 575.2L297.05 575.2L297.05 568.96Q296.68 569.29 296.08 569.63Q295.48 569.97 295.01 570.14L295.01 569.21Q295.86 568.83 296.49 568.29Q297.12 567.74 297.39 567.22L298.07 567.22Z"/>
<text x="277.62" y="600.6" font-size="11.6">0.0</text><path class="g1" d="M298.07 600.6L297.05 600.6L297.05 594.36Q296.68 594.69 296.08 595.03Q295.48 595.37 295.01 595.54L295.01 594.61Q295.86 594.23 296.49 593.69Q297.12 593.14 297.39 592.62L298.07 592.62Z"/>
<path class="g1" d="M284.65 627.6L283.63 627.6L283.63 621.36Q283.26 621.69 282.66 622.03Q282.06 622.37 281.59 622.54L281.59 621.61Q282.44 621.23 283.07 620.69Q283.7 620.14 283.97 619.62L284.65 619.62Z"/><text x="286.78" y="627.6" font-size="11.6">0</text><text x="293.23" y="623.6" font-size="8.4">-3</text>
<path class="g1" d="M284.65 653.2L283.63 653.2L283.63 646.96Q283.26 647.29 282.66 647.63Q282.06 647.97 281.59 648.14L281.59 647.21Q282.44 646.83 283.07 646.29Q283.7 645.74 283.97 645.22L284.65 645.22Z"/><text x="286.78" y="653.2" font-size="11.6">0</text><text x="293.23" y="649.2" font-size="8.4">-4</text>
<path class="g1" d="M284.65 683.2L283.63 683.2L283.63 676.96Q283.26 677.29 282.66 677.63Q282.06 677.97 281.59 678.14L281.59 677.21Q282.44 676.83 283.07 676.29Q283.7 675.74 283.97 675.22L284.65 675.22Z"/><text x="286.78" y="683.2" font-size="11.6">0</text><text x="293.23" y="679.2" font-size="8.4">-5</text>
<path class="g1" d="M284.65 709.9L283.63 709.9L283.63 703.66Q283.26 703.99 282.66 704.33Q282.06 704.67 281.59 704.84L281.59 703.91Q282.44 703.53 283.07 702.99Q283.7 702.44 283.97 701.92L284.65 701.92Z"/><text x="286.78" y="709.9" font-size="11.6">0</text><text x="293.23" y="705.9" font-size="8.4">-6</text>
<text x="306.47" y="729" font-size="11.6">0</text>
<text x="331.67" y="729" font-size="11.6">3</text>
<text x="356.87" y="729" font-size="11.6">6</text>
<text x="382.07" y="729" font-size="11.6">9</text>
<path class="g1" d="M408.37 729L407.35 729L407.35 722.76Q406.98 723.09 406.38 723.43Q405.78 723.77 405.31 723.94L405.31 723.01Q406.16 722.63 406.79 722.09Q407.42 721.54 407.69 721.02L408.37 721.02Z"/><text x="410.5" y="729" font-size="11.6">2</text>
<path class="g1" d="M433.57 729L432.55 729L432.55 722.76Q432.18 723.09 431.58 723.43Q430.98 723.77 430.51 723.94L430.51 723.01Q431.36 722.63 431.99 722.09Q432.62 721.54 432.89 721.02L433.57 721.02Z"/><text x="435.7" y="729" font-size="11.6">5</text>
<path class="g1" d="M458.77 729L457.75 729L457.75 722.76Q457.38 723.09 456.78 723.43Q456.18 723.77 455.71 723.94L455.71 723.01Q456.56 722.63 457.19 722.09Q457.82 721.54 458.09 721.02L458.77 721.02Z"/><text x="460.9" y="729" font-size="11.6">8</text>
<text x="479.65" y="729" font-size="11.6">2</text><path class="g1" d="M490.42 729L489.4 729L489.4 722.76Q489.03 723.09 488.43 723.43Q487.83 723.77 487.36 723.94L487.36 723.01Q488.21 722.63 488.84 722.09Q489.48 721.54 489.74 721.02L490.42 721.02Z"/>
<text x="504.85" y="729" font-size="11.6">24</text>
<text x="343.4" y="537.2" font-size="15.8" text-anchor="start" font-weight="normal">GCsapM-ADA PBMC</text>
<g fill="#000"><path d="M438.15 620L443.25 625.3L438.15 630.6L433.05 625.3Z"/><path d="M463.8 602.9L468.9 608.2L463.8 613.5L458.7 608.2Z"/><path d="M327 703.5L332.1 708.8L327 714.1L321.9 708.8Z"/><circle cx="318.45" cy="708.8" r="4.8"/><circle cx="335.55" cy="708.8" r="4.8"/><circle cx="395.4" cy="708.8" r="4.8"/><circle cx="412.5" cy="708.8" r="4.8"/><rect x="313.65" y="599.9" width="9.6" height="9.6"/><rect x="390.6" y="590.1" width="9.6" height="9.6"/><rect x="407.7" y="584.2" width="9.6" height="9.6"/><rect x="433.35" y="577.5" width="9.6" height="9.6"/><rect x="459" y="570.6" width="9.6" height="9.6"/><rect x="484.65" y="567.8" width="9.6" height="9.6"/><rect x="322.2" y="704" width="9.6" height="9.6"/><rect x="339.3" y="704" width="9.6" height="9.6"/><rect x="347.85" y="704" width="9.6" height="9.6"/><rect x="356.4" y="704" width="9.6" height="9.6"/><rect x="373.5" y="704" width="9.6" height="9.6"/><rect x="510.3" y="704" width="9.6" height="9.6"/><path d="M327 615.4L332.1 625.4L321.9 625.4Z"/><path d="M361.2 606.8L366.3 616.8L356.1 616.8Z"/><path d="M395.4 604L400.5 614L390.3 614Z"/><path d="M438.15 573.6L443.25 583.6L433.05 583.6Z"/><path d="M515.1 596.8L520.2 606.8L510 606.8Z"/><path d="M318.45 703.8L323.55 713.8L313.35 713.8Z"/><path d="M463.8 703.8L468.9 713.8L458.7 713.8Z"/><path d="M489.45 703.8L494.55 713.8L484.35 713.8Z"/><path d="M433.15 607.7L435.65 603.3L440.65 603.3L443.15 607.7L440.65 612.1L435.65 612.1Z"/><path d="M510.1 616.8L512.6 612.4L517.6 612.4L520.1 616.8L517.6 621.2L512.6 621.2Z"/><rect x="407.7" y="634.85" width="9.6" height="3.5"/><rect x="510.3" y="587.75" width="9.6" height="3.5"/><rect x="433.35" y="707.05" width="9.6" height="3.5"/></g>
<g stroke="#000" stroke-width="1.7" fill="none" stroke-linecap="butt">
<path d="M51.1 765.65V938.6"/>
<path d="M46.5 934.3H256.19"/>
<path d="M46.5 766.5H51.1"/>
<path d="M46.5 794.47H51.1"/>
<path d="M46.5 822.43H51.1"/>
<path d="M46.5 850.4H51.1"/>
<path d="M46.5 878.37H51.1"/>
<path d="M46.5 906.33H51.1"/>
<path d="M76.63 934.3V938.6"/>
<path d="M102.16 934.3V938.6"/>
<path d="M127.69 934.3V938.6"/>
<path d="M153.22 934.3V938.6"/>
<path d="M178.75 934.3V938.6"/>
<path d="M204.28 934.3V938.6"/>
<path d="M229.81 934.3V938.6"/>
<path d="M255.34 934.3V938.6"/>
</g>
<path class="g1" d="M40.17 770.9L39.15 770.9L39.15 764.66Q38.78 764.99 38.18 765.33Q37.58 765.67 37.11 765.84L37.11 764.91Q37.96 764.53 38.59 763.99Q39.22 763.44 39.49 762.92L40.17 762.92Z"/>
<text x="26.17" y="798.8" font-size="11.6">0.</text><path class="g1" d="M40.17 798.8L39.15 798.8L39.15 792.56Q38.78 792.89 38.18 793.23Q37.58 793.57 37.11 793.74L37.11 792.81Q37.96 792.43 38.59 791.89Q39.22 791.34 39.49 790.82L40.17 790.82Z"/>
<text x="19.72" y="826.3" font-size="11.6">0.0</text><path class="g1" d="M40.17 826.3L39.15 826.3L39.15 820.06Q38.78 820.39 38.18 820.73Q37.58 821.07 37.11 821.24L37.11 820.31Q37.96 819.93 38.59 819.39Q39.22 818.84 39.49 818.32L40.17 818.32Z"/>
<path class="g1" d="M26.75 855.3L25.73 855.3L25.73 849.06Q25.36 849.39 24.76 849.73Q24.16 850.07 23.69 850.24L23.69 849.31Q24.54 848.93 25.17 848.39Q25.8 847.84 26.07 847.32L26.75 847.32Z"/><text x="28.88" y="855.3" font-size="11.6">0</text><text x="35.33" y="851.3" font-size="8.4">-3</text>
<path class="g1" d="M26.75 883.3L25.73 883.3L25.73 877.06Q25.36 877.39 24.76 877.73Q24.16 878.07 23.69 878.24L23.69 877.31Q24.54 876.93 25.17 876.39Q25.8 875.84 26.07 875.32L26.75 875.32Z"/><text x="28.88" y="883.3" font-size="11.6">0</text><text x="35.33" y="879.3" font-size="8.4">-4</text>
<path class="g1" d="M26.75 911.1L25.73 911.1L25.73 904.86Q25.36 905.19 24.76 905.53Q24.16 905.87 23.69 906.04L23.69 905.11Q24.54 904.73 25.17 904.19Q25.8 903.64 26.07 903.12L26.75 903.12Z"/><text x="28.88" y="911.1" font-size="11.6">0</text><text x="35.33" y="907.1" font-size="8.4">-5</text>
<path class="g1" d="M26.75 938.2L25.73 938.2L25.73 931.96Q25.36 932.29 24.76 932.63Q24.16 932.97 23.69 933.14L23.69 932.21Q24.54 931.83 25.17 931.29Q25.8 930.74 26.07 930.22L26.75 930.22Z"/><text x="28.88" y="938.2" font-size="11.6">0</text><text x="35.33" y="934.2" font-size="8.4">-6</text>
<text x="50.27" y="955.4" font-size="11.6">0</text>
<text x="75.2" y="955.4" font-size="11.6">3</text>
<text x="100.13" y="955.4" font-size="11.6">6</text>
<text x="125.06" y="955.4" font-size="11.6">9</text>
<path class="g1" d="M151.09 955.4L150.07 955.4L150.07 949.16Q149.7 949.49 149.1 949.83Q148.5 950.17 148.03 950.34L148.03 949.41Q148.88 949.03 149.51 948.49Q150.14 947.94 150.41 947.42L151.09 947.42Z"/><text x="153.22" y="955.4" font-size="11.6">2</text>
<path class="g1" d="M176.02 955.4L175 955.4L175 949.16Q174.63 949.49 174.03 949.83Q173.43 950.17 172.96 950.34L172.96 949.41Q173.81 949.03 174.44 948.49Q175.07 947.94 175.34 947.42L176.02 947.42Z"/><text x="178.15" y="955.4" font-size="11.6">5</text>
<path class="g1" d="M200.95 955.4L199.93 955.4L199.93 949.16Q199.56 949.49 198.96 949.83Q198.36 950.17 197.89 950.34L197.89 949.41Q198.74 949.03 199.37 948.49Q200 947.94 200.27 947.42L200.95 947.42Z"/><text x="203.08" y="955.4" font-size="11.6">8</text>
<text x="221.56" y="955.4" font-size="11.6">2</text><path class="g1" d="M232.33 955.4L231.31 955.4L231.31 949.16Q230.94 949.49 230.34 949.83Q229.74 950.17 229.27 950.34L229.27 949.41Q230.12 949.03 230.75 948.49Q231.39 947.94 231.65 947.42L232.33 947.42Z"/>
<text x="246.49" y="955.4" font-size="11.6">24</text>
<text x="99.4" y="759.1" font-size="15.8" text-anchor="start" font-weight="normal">MND-ADA Grans</text>
<g fill="#000"><path d="M59.61 853.6L64.71 858.9L59.61 864.2L54.51 858.9Z"/><path d="M93.65 812.9L98.75 818.2L93.65 823.5L88.55 818.2Z"/><path d="M178.75 861.3L183.85 866.6L178.75 871.9L173.65 866.6Z"/><path d="M204.28 839.6L209.38 844.9L204.28 850.2L199.18 844.9Z"/><path d="M229.81 849.8L234.91 855.1L229.81 860.4L224.71 855.1Z"/><path d="M68.12 929L73.22 934.3L68.12 939.6L63.02 934.3Z"/><path d="M119.18 929L124.28 934.3L119.18 939.6L114.08 934.3Z"/><path d="M153.22 929L158.32 934.3L153.22 939.6L148.12 934.3Z"/><circle cx="76.63" cy="934.3" r="4.8"/><rect x="63.32" y="856.7" width="9.6" height="9.6"/><rect x="97.36" y="901.8" width="9.6" height="9.6"/><rect x="114.38" y="896.3" width="9.6" height="9.6"/><rect x="131.4" y="839.2" width="9.6" height="9.6"/><rect x="148.42" y="833.7" width="9.6" height="9.6"/><rect x="173.95" y="837.8" width="9.6" height="9.6"/><rect x="199.48" y="834.4" width="9.6" height="9.6"/><rect x="225.01" y="836.4" width="9.6" height="9.6"/><rect x="250.54" y="823.3" width="9.6" height="9.6"/><rect x="54.81" y="929.5" width="9.6" height="9.6"/><rect x="80.34" y="929.5" width="9.6" height="9.6"/><rect x="88.85" y="929.5" width="9.6" height="9.6"/><rect x="131.4" y="929.5" width="9.6" height="9.6"/><path d="M59.61 899L64.71 909L54.51 909Z"/><path d="M68.12 836.8L73.22 846.8L63.02 846.8Z"/><path d="M119.18 839.5L124.28 849.5L114.08 849.5Z"/><path d="M136.2 835L141.3 845L131.1 845Z"/><path d="M153.22 815.8L158.32 825.8L148.12 825.8Z"/><path d="M178.75 846.8L183.85 856.8L173.65 856.8Z"/><path d="M204.28 801.2L209.38 811.2L199.18 811.2Z"/><path d="M229.81 803.9L234.91 813.9L224.71 813.9Z"/><path d="M93.65 929.3L98.75 939.3L88.55 939.3Z"/><path d="M102.16 929.3L107.26 939.3L97.06 939.3Z"/><path d="M255.34 929.3L260.44 939.3L250.24 939.3Z"/><path d="M63.12 863L65.62 858.6L70.62 858.6L73.12 863L70.62 867.4L65.62 867.4Z"/><path d="M80.14 862.2L82.64 857.8L87.64 857.8L90.14 862.2L87.64 866.6L82.64 866.6Z"/><path d="M88.65 848.2L91.15 843.8L96.15 843.8L98.65 848.2L96.15 852.6L91.15 852.6Z"/><path d="M97.16 849.7L99.66 845.3L104.66 845.3L107.16 849.7L104.66 854.1L99.66 854.1Z"/><path d="M114.18 826.9L116.68 822.5L121.68 822.5L124.18 826.9L121.68 831.3L116.68 831.3Z"/><path d="M148.22 842L150.72 837.6L155.72 837.6L158.22 842L155.72 846.4L150.72 846.4Z"/><path d="M250.34 796.9L252.84 792.5L257.84 792.5L260.34 796.9L257.84 801.3L252.84 801.3Z"/><path d="M173.75 934.3L176.25 929.9L181.25 929.9L183.75 934.3L181.25 938.7L176.25 938.7Z"/><rect x="63.32" y="848.65" width="9.6" height="3.5"/><rect x="97.36" y="852.75" width="9.6" height="3.5"/><rect x="80.34" y="810.35" width="9.6" height="3.5"/><rect x="88.85" y="882.85" width="9.6" height="3.5"/><rect x="148.42" y="884.75" width="9.6" height="3.5"/><rect x="225.01" y="880.55" width="9.6" height="3.5"/><rect x="250.54" y="849.45" width="9.6" height="3.5"/></g>
<g stroke="#000" stroke-width="1.7" fill="none" stroke-linecap="butt">
<path d="M307.2 765.85V938.4"/>
<path d="M302.6 934.1H513.25"/>
<path d="M302.6 766.7H307.2"/>
<path d="M302.6 794.6H307.2"/>
<path d="M302.6 822.5H307.2"/>
<path d="M302.6 850.4H307.2"/>
<path d="M302.6 878.3H307.2"/>
<path d="M302.6 906.2H307.2"/>
<path d="M332.85 934.1V938.4"/>
<path d="M358.5 934.1V938.4"/>
<path d="M384.15 934.1V938.4"/>
<path d="M409.8 934.1V938.4"/>
<path d="M435.45 934.1V938.4"/>
<path d="M461.1 934.1V938.4"/>
<path d="M486.75 934.1V938.4"/>
<path d="M512.4 934.1V938.4"/>
</g>
<path class="g1" d="M297.87 770.9L296.85 770.9L296.85 764.66Q296.48 764.99 295.88 765.33Q295.28 765.67 294.81 765.84L294.81 764.91Q295.66 764.53 296.29 763.99Q296.92 763.44 297.19 762.92L297.87 762.92Z"/>
<text x="283.87" y="798.8" font-size="11.6">0.</text><path class="g1" d="M297.87 798.8L296.85 798.8L296.85 792.56Q296.48 792.89 295.88 793.23Q295.28 793.57 294.81 793.74L294.81 792.81Q295.66 792.43 296.29 791.89Q296.92 791.34 297.19 790.82L297.87 790.82Z"/>
<text x="277.42" y="826.3" font-size="11.6">0.0</text><path class="g1" d="M297.87 826.3L296.85 826.3L296.85 820.06Q296.48 820.39 295.88 820.73Q295.28 821.07 294.81 821.24L294.81 820.31Q295.66 819.93 296.29 819.39Q296.92 818.84 297.19 818.32L297.87 818.32Z"/>
<path class="g1" d="M284.45 855.3L283.43 855.3L283.43 849.06Q283.06 849.39 282.46 849.73Q281.86 850.07 281.39 850.24L281.39 849.31Q282.24 848.93 282.87 848.39Q283.5 847.84 283.77 847.32L284.45 847.32Z"/><text x="286.58" y="855.3" font-size="11.6">0</text><text x="293.03" y="851.3" font-size="8.4">-3</text>
<path class="g1" d="M284.45 883.3L283.43 883.3L283.43 877.06Q283.06 877.39 282.46 877.73Q281.86 878.07 281.39 878.24L281.39 877.31Q282.24 876.93 282.87 876.39Q283.5 875.84 283.77 875.32L284.45 875.32Z"/><text x="286.58" y="883.3" font-size="11.6">0</text><text x="293.03" y="879.3" font-size="8.4">-4</text>
<path class="g1" d="M284.45 911.1L283.43 911.1L283.43 904.86Q283.06 905.19 282.46 905.53Q281.86 905.87 281.39 906.04L281.39 905.11Q282.24 904.73 282.87 904.19Q283.5 903.64 283.77 903.12L284.45 903.12Z"/><text x="286.58" y="911.1" font-size="11.6">0</text><text x="293.03" y="907.1" font-size="8.4">-5</text>
<path class="g1" d="M284.45 938.2L283.43 938.2L283.43 931.96Q283.06 932.29 282.46 932.63Q281.86 932.97 281.39 933.14L281.39 932.21Q282.24 931.83 282.87 931.29Q283.5 930.74 283.77 930.22L284.45 930.22Z"/><text x="286.58" y="938.2" font-size="11.6">0</text><text x="293.03" y="934.2" font-size="8.4">-6</text>
<text x="307.17" y="955.5" font-size="11.6">0</text>
<text x="332.16" y="955.5" font-size="11.6">3</text>
<text x="357.15" y="955.5" font-size="11.6">6</text>
<text x="382.14" y="955.5" font-size="11.6">9</text>
<path class="g1" d="M408.23 955.5L407.21 955.5L407.21 949.26Q406.84 949.59 406.24 949.93Q405.64 950.27 405.17 950.44L405.17 949.51Q406.02 949.13 406.65 948.59Q407.28 948.04 407.55 947.52L408.23 947.52Z"/><text x="410.36" y="955.5" font-size="11.6">2</text>
<path class="g1" d="M433.22 955.5L432.2 955.5L432.2 949.26Q431.83 949.59 431.23 949.93Q430.63 950.27 430.16 950.44L430.16 949.51Q431.01 949.13 431.64 948.59Q432.27 948.04 432.54 947.52L433.22 947.52Z"/><text x="435.35" y="955.5" font-size="11.6">5</text>
<path class="g1" d="M458.21 955.5L457.19 955.5L457.19 949.26Q456.82 949.59 456.22 949.93Q455.62 950.27 455.15 950.44L455.15 949.51Q456 949.13 456.63 948.59Q457.26 948.04 457.53 947.52L458.21 947.52Z"/><text x="460.34" y="955.5" font-size="11.6">8</text>
<text x="478.88" y="955.5" font-size="11.6">2</text><path class="g1" d="M489.65 955.5L488.63 955.5L488.63 949.26Q488.26 949.59 487.66 949.93Q487.06 950.27 486.59 950.44L486.59 949.51Q487.44 949.13 488.07 948.59Q488.71 948.04 488.97 947.52L489.65 947.52Z"/>
<text x="503.87" y="955.5" font-size="11.6">24</text>
<text x="343.2" y="758.9" font-size="15.8" text-anchor="start" font-weight="normal">GCsapM-ADA Grans</text>
<g fill="#000"><path d="M435.45 856.7L440.55 862L435.45 867.3L430.35 862Z"/><circle cx="324.3" cy="934.1" r="4.8"/><circle cx="332.85" cy="934.1" r="4.8"/><rect x="319.5" y="853.9" width="9.6" height="9.6"/><rect x="310.95" y="929.3" width="9.6" height="9.6"/><rect x="336.6" y="929.3" width="9.6" height="9.6"/><rect x="345.15" y="929.3" width="9.6" height="9.6"/><rect x="353.7" y="929.3" width="9.6" height="9.6"/><rect x="370.8" y="929.3" width="9.6" height="9.6"/><rect x="387.9" y="929.3" width="9.6" height="9.6"/><rect x="405" y="929.3" width="9.6" height="9.6"/><rect x="430.65" y="929.3" width="9.6" height="9.6"/><rect x="456.3" y="929.3" width="9.6" height="9.6"/><rect x="481.95" y="929.3" width="9.6" height="9.6"/><rect x="507.6" y="929.3" width="9.6" height="9.6"/><path d="M324.3 864.5L329.4 874.5L319.2 874.5Z"/><path d="M349.95 831.9L354.85 836.3L354.85 840.7L349.95 841.6L345.05 840.7L345.05 836.3Z"/><path d="M461.1 818.5L466.2 828.5L456 828.5Z"/><path d="M486.75 825.4L491.85 835.4L481.65 835.4Z"/><path d="M512.4 812.2L517.5 822.2L507.3 822.2Z"/><path d="M370.6 829.8L373.1 825.4L378.1 825.4L380.6 829.8L378.1 834.2L373.1 834.2Z"/><path d="M404.8 837.3L407.3 832.9L412.3 832.9L414.8 837.3L412.3 841.7L407.3 841.7Z"/><path d="M507.4 813.1L509.9 808.7L514.9 808.7L517.4 813.1L514.9 817.5L509.9 817.5Z"/><rect x="319.5" y="832.15" width="9.6" height="3.5"/><rect x="370.8" y="840.25" width="9.6" height="3.5"/><rect x="387.9" y="835.25" width="9.6" height="3.5"/><rect x="456.3" y="840.15" width="9.6" height="3.5"/></g>
<text x="0" y="0" font-size="14.8" text-anchor="middle" font-weight="normal" transform="translate(12.1 234.0) rotate(-90)">Vector Copy/Cell</text>
<text x="0" y="0" font-size="14.8" text-anchor="middle" font-weight="normal" transform="translate(12.1 726.2) rotate(-90)">Vector Copy/Cell</text>
<text x="211" y="467.2" font-size="15.6" text-anchor="start" font-weight="normal">Month After Transplant</text>
<text x="210.9" y="980.4" font-size="15.6" text-anchor="start" font-weight="normal">Month After Transplant</text>
</svg></body></html>
